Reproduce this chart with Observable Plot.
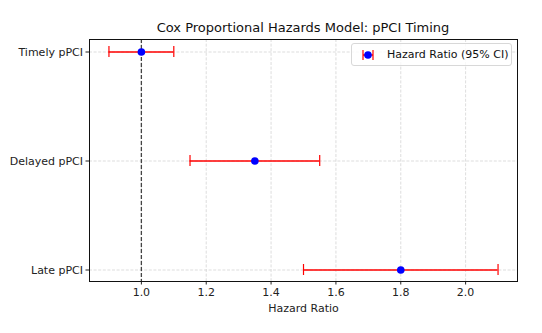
<!DOCTYPE html>
<html>
<head>
<meta charset="utf-8">
<script src="https://cdn.jsdelivr.net/npm/d3@7"></script>
<script src="https://cdn.jsdelivr.net/npm/@observablehq/plot@0.6"></script>
<style>
  body { margin: 0; background: #fff; font-family: "DejaVu Sans", sans-serif; }
  #wrap { position: relative; width: 542px; height: 333px; }
  #title { position: absolute; left: 89px; width: 428px; top: 20px; text-align: center; font-size: 13px; line-height: 15px; color: #111; white-space: nowrap; }
  #chart { position: absolute; left: 0; top: 33px; }
  #legend { position: absolute; left: 351px; top: 43px; width: 159px; height: 21px; border: 1px solid #d8d8d8; border-radius: 3px; background: rgba(255,255,255,0.8); font-size: 11px; color: #111; }
  #legend svg { position: absolute; left: 9px; top: 5px; }
  #legend span { position: absolute; left: 35px; top: 4px; line-height: 13px; white-space: nowrap; }
</style>
</head>
<body>
<div id="wrap">
  <div id="title">Cox Proportional Hazards Model: pPCI Timing</div>
  <div id="chart"></div>
  <div id="legend">
    <svg width="14" height="12"><line x1="2" x2="12" y1="6" y2="6" stroke="red" stroke-width="1.5"/><line x1="2" x2="2" y1="1" y2="11" stroke="red" stroke-width="1.2"/><line x1="12" x2="12" y1="1" y2="11" stroke="red" stroke-width="1.2"/><circle cx="7" cy="6" r="3.8" fill="blue"/></svg>
    <span>Hazard Ratio (95% CI)</span>
  </div>
</div>
<script>
const groups = ["Timely pPCI", "Delayed pPCI", "Late pPCI"];
const hazardRatio = [1.0, 1.35, 1.8];
const ciLower = [0.9, 1.15, 1.5];
const ciUpper = [1.1, 1.55, 2.1];
const xTicks = [1.0, 1.2, 1.4, 1.6, 1.8, 2.0];
const refLine = [1.0];

const data = groups.map((g, i) => ({group: g, hr: hazardRatio[i], lo: ciLower[i], hi: ciUpper[i]}));

const chart = Plot.plot({
  width: 542,
  height: 300,
  marginLeft: 89,
  marginRight: 25,
  marginTop: 6,
  marginBottom: 52,
  style: {fontFamily: "DejaVu Sans, sans-serif", fontSize: "11px", color: "#222", background: "transparent"},
  x: {domain: [0.84, 2.16]},
  y: {type: "band", domain: groups, paddingInner: 0.9, paddingOuter: 0.05},
  marks: [
    Plot.gridX(xTicks, {stroke: "#d4d4d4", strokeOpacity: 1, strokeDasharray: "3,1.6", strokeWidth: 0.8}),
    Plot.gridY(groups, {stroke: "#d4d4d4", strokeOpacity: 1, strokeDasharray: "3,1.6", strokeWidth: 0.8}),
    Plot.ruleX(refLine, {stroke: "#444", strokeDasharray: "4,2", strokeWidth: 1.3}),
    Plot.ruleY(data, {y: "group", x1: "lo", x2: "hi", stroke: "red", strokeWidth: 1.5}),
    Plot.tickX(data, {y: "group", x: "lo", stroke: "red", strokeWidth: 1.2}),
    Plot.tickX(data, {y: "group", x: "hi", stroke: "red", strokeWidth: 1.2}),
    Plot.dot(data, {y: "group", x: "hr", r: 3.8, fill: "blue", stroke: "none"}),
    Plot.axisX({ticks: xTicks, tickFormat: d3.format(".1f"), tickSize: 3.5, tickPadding: 3, label: "Hazard Ratio", labelAnchor: "center", labelArrow: "none", labelOffset: 30, fontSize: 11, color: "#222"}),
    Plot.axisY({tickSize: 3.5, tickPadding: 3, label: null, fontSize: 11, color: "#222"}),
    Plot.frame({stroke: "#111", strokeWidth: 1})
  ]
});
document.getElementById("chart").appendChild(chart);
</script>
</body>
</html>
